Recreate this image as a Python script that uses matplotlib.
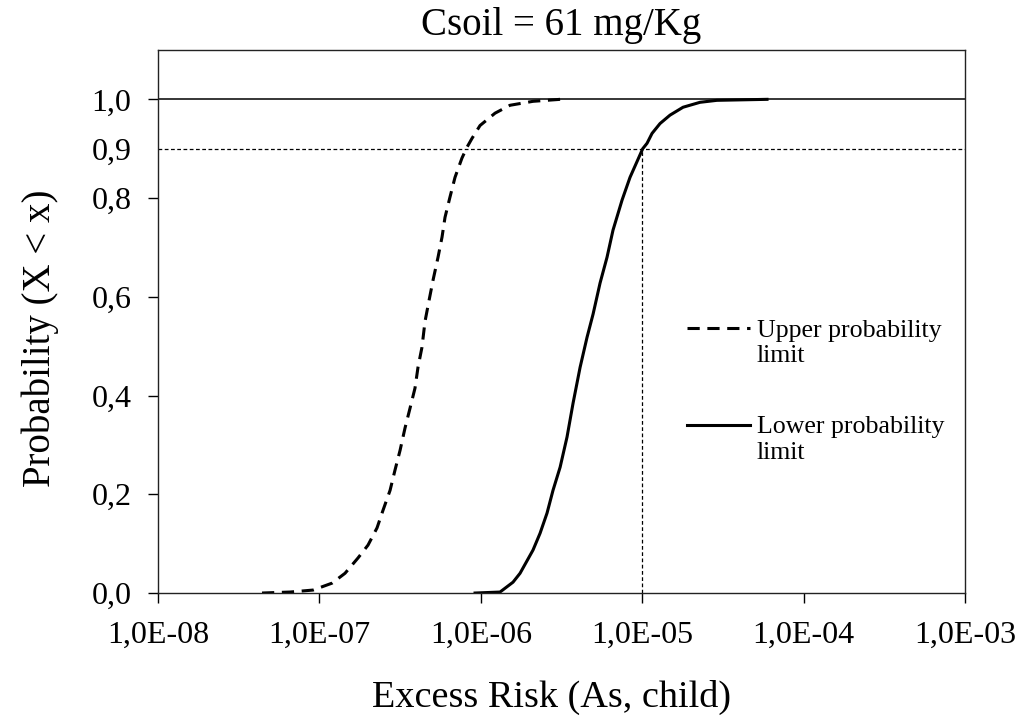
import numpy as np
import matplotlib.pyplot as plt
from matplotlib.ticker import FuncFormatter

# cumulative probability curves
upper_risk = [4.41e-8, 6.57e-8, 9.13e-8, 1.197e-7, 1.441e-7, 1.734e-7, 2.000e-7, 2.275e-7,
              2.48e-7, 2.74e-7, 2.94e-7, 3.16e-7, 3.39e-7, 3.64e-7, 3.91e-7, 4.08e-7,
              4.32e-7, 4.51e-7, 4.78e-7, 5.06e-7, 5.43e-7, 5.75e-7, 6.00e-7, 6.44e-7,
              6.92e-7, 7.64e-7, 8.21e-7, 8.82e-7, 9.89e-7, 1.225e-6, 1.517e-6, 2.105e-6,
              3.10e-6]
upper_prob = [0.0, 0.002, 0.006, 0.020, 0.040, 0.071, 0.097, 0.132,
              0.168, 0.208, 0.249, 0.289, 0.334, 0.374, 0.415, 0.457,
              0.498, 0.550, 0.593, 0.634, 0.680, 0.721, 0.761, 0.802,
              0.842, 0.881, 0.903, 0.921, 0.947, 0.972, 0.988, 0.996,
              1.0]

lower_risk = [9.21e-7, 1.315e-6, 1.583e-6, 1.750e-6, 2.105e-6, 2.328e-6, 2.572e-6, 2.80e-6,
              3.10e-6, 3.42e-6, 3.73e-6, 4.12e-6, 4.55e-6, 4.96e-6, 5.48e-6, 6.05e-6,
              6.59e-6, 7.50e-6, 8.40e-6, 1.007e-5, 1.071e-5, 1.150e-5, 1.289e-5, 1.486e-5,
              1.790e-5, 2.28e-5, 2.90e-5, 5.93e-5]
lower_prob = [0.0, 0.002, 0.022, 0.040, 0.087, 0.121, 0.162, 0.208,
              0.255, 0.316, 0.385, 0.457, 0.518, 0.565, 0.628, 0.680,
              0.735, 0.796, 0.842, 0.900, 0.911, 0.931, 0.951, 0.968,
              0.984, 0.994, 0.998, 1.0]

x_ticks = [1e-8, 1e-7, 1e-6, 1e-5, 1e-4, 1e-3]
y_ticks = [0.0, 0.2, 0.4, 0.6, 0.8, 1.0]
y_labels = ['0,0', '0,2', '0,4', '0,6', '0,8', '1,0']
p_ref = 0.9
risk_ref = 1e-5

plt.rcParams['font.family'] = ['Liberation Serif', 'DejaVu Serif']

fig = plt.figure(figsize=(10.18, 7.17), dpi=100)
ax = fig.add_axes([0.1552, 0.1729, 0.7928, 0.7574])

ax.plot(upper_risk, upper_prob, color='black', lw=2.2, linestyle=(0, (4, 2.5)))
ax.plot(lower_risk, lower_prob, color='black', lw=2.2)

ax.axhline(1.0, color='black', lw=1.1)
ax.axhline(p_ref, color='black', lw=0.9, linestyle=(0, (3, 2)))
ax.plot([risk_ref, risk_ref], [0, p_ref], color='black', lw=0.9, linestyle=(0, (3, 2)))

ax.set_xscale('log')
ax.set_xlim(x_ticks[0], x_ticks[-1])
ax.set_ylim(0, 1.1)
ax.set_xticks(x_ticks)
ax.xaxis.set_minor_locator(plt.NullLocator())
ax.xaxis.set_major_formatter(FuncFormatter(lambda v, pos: f"{v:.1E}".replace('.', ',')))
ax.set_yticks(y_ticks)
ax.set_yticklabels(y_labels)
ax.set_yticks([p_ref], minor=True)
ax.set_yticklabels(['0,9'], minor=True)

ax.tick_params(which='major', direction='out', length=7, width=1.0, labelsize=23, color='black')
ax.tick_params(axis='y', which='major', pad=12)
ax.tick_params(axis='x', which='major', pad=13)
ax.tick_params(axis='y', which='minor', length=0, labelsize=23, pad=19)

for sp in ax.spines.values():
    sp.set_linewidth(1.0)
    sp.set_color('#222222')

ax.set_title('Csoil = 61 mg/Kg', fontsize=28, pad=11)
ax.set_xlabel('Excess Risk (As, child)', fontsize=27.5)
ax.xaxis.set_label_coords(0.4876, -0.16)
ax.set_ylabel('Probability (X < x)', fontsize=28)
ax.yaxis.set_label_coords(-0.123, 0.4687)

# legend drawn by hand so the line sits on the first text line
ax.plot([0.6555, 0.7336], [0.488, 0.488], transform=ax.transAxes, color='black',
        lw=2.2, linestyle=(0, (4, 2.5)))
ax.text(0.742, 0.459, 'Upper probability\nlimit', transform=ax.transAxes, fontsize=18.6,
        va='center', ha='left', linespacing=1.2)
ax.plot([0.6555, 0.7336], [0.309, 0.309], transform=ax.transAxes, color='black', lw=2.2)
ax.text(0.742, 0.282, 'Lower probability\nlimit', transform=ax.transAxes, fontsize=18.6,
        va='center', ha='left', linespacing=1.2)

fig.savefig('out.png', dpi=100)
